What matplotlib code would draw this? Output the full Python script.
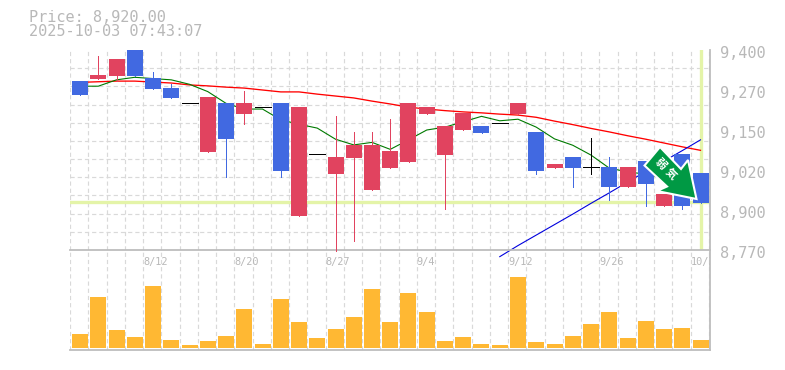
import matplotlib
matplotlib.use("Agg")
import matplotlib.pyplot as plt
from matplotlib.patches import Polygon
from matplotlib.transforms import ScaledTranslation, blended_transform_factory

W, H = 785, 370
title_price = "Price: 8,920.00"
title_time = "2025-10-03 07:43:07"

opens  = [9302, 9309, 9318, 9400, 9312, 9280, 9232, 9079, 9233, 9198, 9220, 9233, 8877, 9071, 9009, 9060, 8959, 9028,
          9047, 9198, 9069, 9148, 9161, 9170, 9198, 9142, 9028, 9063, 9031, 9031, 8968, 9050, 8909, 9072, 9013]
closes = [9258, 9321, 9372, 9318, 9277, 9249, 9232, 9252, 9120, 9233, 9220, 9019, 9220, 9071, 9063, 9101, 9101, 9082,
          9233, 9220, 9161, 9202, 9139, 9170, 9233, 9019, 9041, 9028, 9031, 8968, 9031, 8978, 8946, 8909, 8918]
highs  = [9302, 9381, 9372, 9400, 9331, 9293, 9232, 9252, 9233, 9271, 9220, 9233, 9220, 9071, 9192, 9142, 9142, 9183,
          9233, 9220, 9161, 9202, 9161, 9170, 9233, 9142, 9041, 9063, 9123, 9063, 9031, 9050, 8946, 9072, 9013]
lows   = [9258, 9309, 9301, 9318, 9277, 9249, 9232, 9079, 9000, 9167, 9220, 9000, 8877, 9071, 8768, 8798, 8959, 9028,
          9047, 9198, 8899, 9148, 9139, 9170, 9198, 9009, 9028, 8968, 9009, 8928, 8968, 8909, 8909, 8899, 8918]
ma_red = [9298, 9300, 9302, 9302, 9299, 9296, 9290, 9287, 9283, 9280, 9274, 9268, 9268, 9261, 9255, 9249, 9239, 9230,
          9220, 9214, 9209, 9205, 9202, 9198, 9195, 9188, 9176, 9165, 9153, 9142, 9130, 9119, 9107, 9095, 9084]
ma_green = [9286, 9286, 9306, 9314, 9310, 9306, 9292, 9269, 9232, 9214, 9214, 9180, 9166, 9154, 9119, 9101, 9109, 9087,
            9117, 9148, 9157, 9174, 9191, 9177, 9182, 9157, 9120, 9100, 9069, 9028, 9016, 9009, 8997, 8984, 8975]
trend_start = 23
trend_blue = [8749, 8784, 8817, 8850, 8883, 8917, 8950, 8984, 9017, 9050, 9083, 9117]
volumes = [42, 153, 54, 33, 186, 24, 9, 21, 36, 117, 12, 147, 78, 30, 57, 93, 177, 78,
           165, 108, 21, 33, 12, 9, 213, 18, 12, 36, 72, 108, 30, 81, 57, 60, 24]
price_ticks = [9400, 9274, 9148, 9022, 8896, 8770]
price_labels = ["9,400", "9,270", "9,150", "9,020", "8,900", "8,770"]
date_pos = [4, 9, 14, 19, 24, 29, 34]
date_labels = ["8/12", "8/20", "8/27", "9/4", "9/12", "9/26", "10/3"]
current_price = 8920

RED, BLUE, BLACK = "#e1435f", "#4169e1", "#000000"
GOLD = "#ffb833"
GRID = "#d9d9d9"
FRAME = "#bdbdbd"
TXT = "#b8b8b8"
MARK = "#e4f4a8"
GREEN = "#009944"
MONO = "DejaVu Sans Mono"

fig = plt.figure(figsize=(W / 100, H / 100), dpi=100, facecolor="white")


def axes_px(x0, x1, y0, y1):
    return fig.add_axes([x0 / W, 1 - y1 / H, (x1 - x0) / W, (y1 - y0) / H])


ax = axes_px(70, 710, 50, 250)
av = axes_px(70, 710, 250, 350)
ax.set_zorder(3)
av.set_zorder(2)

n = len(opens)
x = list(range(n))
STEP = 18.25
xlim = (-10 / STEP, 630 / STEP)
grid_x = [k + xlim[0] for k in range(36)]
PX = 0.72
DASH = (0, (3.5, 2.5))

for a in (ax, av):
    a.set_xlim(*xlim)
    a.set_xticks(grid_x, minor=True)
    a.set_xticks([])
    a.grid(which="minor", axis="x", color=GRID, lw=PX * 1.2, ls=DASH, zorder=0)
    a.tick_params(which="both", length=0)
    a.set_axisbelow(True)
    for s in ("top", "left"):
        a.spines[s].set_visible(False)
    for s in ("right", "bottom"):
        a.spines[s].set_color(FRAME)
        a.spines[s].set_linewidth(1.3)

# price panel
ax.set_ylim(8770, 9400)
ax.set_yticks([9400 - 630 / 11 * k for k in range(12)], minor=True)
ax.grid(which="minor", axis="y", color=GRID, lw=PX * 1.2, ls=DASH, zorder=0)
ax.set_yticks(price_ticks)
ax.set_yticklabels(price_labels, fontfamily=MONO, fontsize=11, color=TXT)
ax.yaxis.tick_right()
ax.tick_params(axis="y", which="major", pad=7, length=0)
shift = ScaledTranslation(0, -2 / 100, fig.dpi_scale_trans)
for t in ax.get_yticklabels():
    t.set_transform(t.get_transform() + shift)

ax.axhline(current_price, color=MARK, lw=2.4, zorder=1)
ax.axvline(x[-1], color=MARK, lw=2.4, ymin=0.005, ymax=0.995, zorder=1)

ax.plot(x, ma_red, color="#ff0000", lw=0.95, zorder=2)
ax.plot(x, ma_green, color="#007a00", lw=0.8, zorder=2)
ax.plot(x[trend_start:], trend_blue, color="#0000dd", lw=0.8, zorder=2, clip_on=False)

W_BODY = 16 / STEP
for i in x:
    o, c, h, l = opens[i], closes[i], highs[i], lows[i]
    col = BLACK if o == c else (RED if c > o else BLUE)
    if h > l:
        ax.vlines(i, l, h, color=col, lw=PX, zorder=3, clip_on=False, antialiaseds=False)
    if o == c:
        ax.hlines(o, i - W_BODY / 2, i + W_BODY / 2, color=col, lw=PX, zorder=3, antialiaseds=False)
    else:
        ax.bar(i, abs(c - o), bottom=min(o, c), width=W_BODY, color=col, lw=0, zorder=3, clip_on=False)

# volume panel
av.set_ylim(-6, 294)
av.set_yticks([])
av.bar(x, volumes, width=W_BODY, color=GOLD, lw=0, zorder=3)
tr = blended_transform_factory(av.transData, av.transAxes)
for p, lab in zip(date_pos, date_labels):
    av.text(p + xlim[0], 0.88, lab, transform=tr, fontfamily=MONO, fontsize=7.4, color=TXT,
            ha="left", va="center", clip_on=True, zorder=4)

# header
fig.text(29 / W, 1 - 17 / H, title_price, fontfamily=MONO, fontsize=11, color=TXT, va="center", ha="left")
fig.text(29 / W, 1 - 32 / H, title_time, fontfamily=MONO, fontsize=11, color=TXT, va="center", ha="left")

# signal arrow badge
badge_px = [(660, 147), (681, 169), (688, 160), (696.5, 199), (657, 191), (667, 186.5), (644.5, 165.5)]
badge = Polygon([(px / W, 1 - py / H) for px, py in badge_px], closed=True, transform=fig.transFigure,
                facecolor=GREEN, edgecolor="white", lw=1.5, joinstyle="miter", zorder=10)
fig.add_artist(badge)
for ch, (px, py) in zip("弱気", [(661, 164), (671, 174)]):
    fig.text(px / W, 1 - py / H, ch, family=["Noto Sans CJK JP", "DejaVu Sans"], fontsize=8, fontweight="bold",
             color="white", rotation=-45, ha="center", va="center", rotation_mode="anchor", zorder=11)

fig.savefig("out.png", dpi=100, facecolor="white")
